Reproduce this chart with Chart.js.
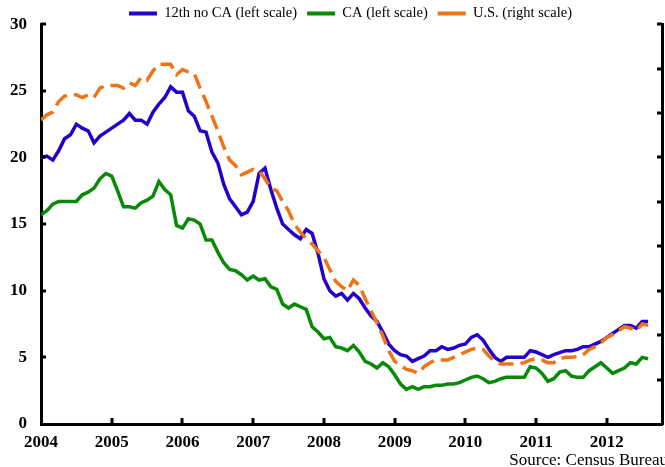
<!DOCTYPE html>
<html><head><meta charset="utf-8">
<script src="https://cdn.jsdelivr.net/npm/chart.js@4"></script>
<style>html,body{margin:0;padding:0;background:#fff;overflow:hidden}</style>
</head><body>
<canvas id="c" width="665" height="467"></canvas>
<script>
// ---- data ----
const startYear = 2004;            // monthly series, first point = Jan 2004
const yearTicks = [2004, 2005, 2006, 2007, 2008, 2009, 2010, 2011, 2012];
const leftTicks = [0, 5, 10, 15, 20, 25, 30];
const rightTicks = [0, 1, 2, 3, 4, 5, 6, 7, 8, 9];
const seriesNames = ['12th no CA (left scale)', 'CA (left scale)', 'U.S. (right scale)'];
const sourceNote = 'Source: Census Bureau';

const twelfthNoCA = [
  20.0, 20.1, 19.8, 20.5, 21.4, 21.7, 22.5, 22.2, 22.0, 21.1, 21.6, 21.9,
  22.2, 22.5, 22.8, 23.3, 22.8, 22.8, 22.5, 23.4, 24.0, 24.5, 25.3, 24.9,
  24.9, 23.5, 23.1, 22.0, 21.9, 20.4, 19.6, 18.0, 16.9, 16.3, 15.7, 15.9,
  16.7, 18.8, 19.2, 17.6, 16.2, 15.0, 14.6, 14.2, 13.9, 14.6, 14.3, 12.8,
  10.9, 10.0, 9.6, 9.8, 9.3, 9.8, 9.4, 8.7, 8.1, 7.7, 6.9, 6.0,
  5.5, 5.2, 5.1, 4.7, 4.9, 5.1, 5.5, 5.5, 5.8, 5.6, 5.7, 5.9,
  6.0, 6.5, 6.7, 6.3, 5.6, 5.0, 4.7, 5.0, 5.0, 5.0, 5.0, 5.5,
  5.4, 5.2, 5.0, 5.2, 5.35, 5.5, 5.5, 5.6, 5.8, 5.8, 6.0, 6.2,
  6.5, 6.8, 7.1, 7.4, 7.4, 7.2, 7.7, 7.7
];
const california = [
  15.7, 16.0, 16.5, 16.7, 16.7, 16.7, 16.7, 17.2, 17.4, 17.7, 18.4, 18.8,
  18.6, 17.5, 16.3, 16.3, 16.2, 16.6, 16.8, 17.1, 18.2, 17.6, 17.2, 14.9,
  14.7, 15.4, 15.3, 15.0, 13.8, 13.8, 12.9, 12.1, 11.6, 11.5, 11.2, 10.8,
  11.1, 10.8, 10.9, 10.3, 10.1, 9.0, 8.7, 9.0, 8.8, 8.6, 7.3, 6.9,
  6.4, 6.5, 5.8, 5.7, 5.5, 5.9, 5.4, 4.7, 4.5, 4.2, 4.6, 4.3,
  3.7, 3.0, 2.6, 2.8, 2.6, 2.8, 2.8, 2.9, 2.9, 3.0, 3.0, 3.1,
  3.3, 3.5, 3.6, 3.4, 3.1, 3.2, 3.4, 3.5, 3.5, 3.5, 3.5, 4.3,
  4.2, 3.8, 3.2, 3.4, 3.9, 4.0, 3.6, 3.5, 3.5, 4.0, 4.3, 4.6,
  4.2, 3.8, 4.0, 4.2, 4.6, 4.5, 5.0, 4.9
];
const unitedStates = [
  6.84, 6.96, 7.02, 7.26, 7.38, 7.41, 7.41, 7.35, 7.41, 7.35, 7.56, 7.62,
  7.62, 7.62, 7.56, 7.68, 7.62, 7.80, 7.74, 7.95, 8.10, 8.10, 8.10, 7.86,
  7.98, 7.92, 7.89, 7.56, 7.26, 6.93, 6.60, 6.24, 5.94, 5.82, 5.61, 5.67,
  5.73, 5.70, 5.52, 5.31, 5.25, 5.01, 4.80, 4.50, 4.32, 4.17, 4.05, 3.90,
  3.75, 3.48, 3.21, 3.09, 3.00, 3.24, 3.12, 2.82, 2.55, 2.28, 1.98, 1.65,
  1.41, 1.32, 1.23, 1.20, 1.14, 1.29, 1.38, 1.44, 1.44, 1.44, 1.50, 1.56,
  1.62, 1.68, 1.71, 1.68, 1.53, 1.41, 1.35, 1.35, 1.35, 1.35, 1.38, 1.44,
  1.47, 1.44, 1.38, 1.38, 1.47, 1.50, 1.50, 1.52, 1.56, 1.68, 1.74, 1.83,
  1.95, 2.01, 2.10, 2.19, 2.16, 2.10, 2.25, 2.22
];

// ---- build ----
const toPoints = arr => arr.map((v, i) => ({ x: startYear + i / 12, y: v }));
const SERIF = '"Liberation Serif", "Times New Roman", serif';
const BLUE = '#2400cc', GREEN = '#088a08', ORANGE = '#ee7416';

const legendShift = {
  id: 'legendShift',
  afterLayout(chart) {
    const L = chart.legend;
    if (!L) return;
    L.left += 18; L.right += 18;
    L.top -= 8;
  }
};

const tickMarks = {
  id: 'tickMarks',
  afterDraw(chart) {
    const c = chart.ctx, a = chart.chartArea;
    c.save();
    c.strokeStyle = '#000';
    c.lineWidth = 3;
    c.beginPath();
    const xs = chart.scales.x;
    yearTicks.forEach(v => {
      const px = Math.round(xs.getPixelForValue(v));
      if (px <= a.left + 2) return;
      c.moveTo(px, a.bottom); c.lineTo(px, a.bottom - 6);
    });
    const ys = chart.scales.y;
    leftTicks.forEach(v => {
      const py = Math.round(ys.getPixelForValue(v));
      if (py >= a.bottom - 2) return;
      c.moveTo(a.left, py); c.lineTo(a.left + 5, py);
    });
    const rs = chart.scales.y1;
    rightTicks.forEach(v => {
      const py = Math.round(rs.getPixelForValue(v));
      if (py >= a.bottom - 2) return;
      c.moveTo(a.right, py); c.lineTo(a.right - 5, py);
    });
    c.stroke();
    c.fillStyle = '#000';
    c.font = '17px ' + SERIF;
    c.textAlign = 'right';
    c.textBaseline = 'middle';
    c.fillText(sourceNote, 668, 461);
    c.restore();
  }
};

const tickFont = { family: SERIF, size: 17, weight: 'bold' };

new Chart(document.getElementById('c'), {
  type: 'line',
  data: {
    datasets: [
      { label: seriesNames[0], data: toPoints(twelfthNoCA), borderColor: BLUE, backgroundColor: BLUE,
        borderWidth: 3.5, pointRadius: 0, tension: 0, yAxisID: 'y', order: 1 },
      { label: seriesNames[1], data: toPoints(california), borderColor: GREEN, backgroundColor: GREEN,
        borderWidth: 3.5, pointRadius: 0, tension: 0, yAxisID: 'y', order: 2 },
      { label: seriesNames[2], data: toPoints(unitedStates), borderColor: ORANGE, backgroundColor: ORANGE,
        borderWidth: 3.5, borderDash: [15, 7], pointRadius: 0, tension: 0, yAxisID: 'y1', order: 0 }
    ]
  },
  options: {
    responsive: false,
    animation: false,
    devicePixelRatio: 1,
    layout: { padding: { top: 0, left: 0, right: 0, bottom: 0 } },
    plugins: {
      tooltip: { enabled: false },
      legend: {
        position: 'top',
        maxHeight: 20,
        labels: {
          color: '#000',
          font: { family: SERIF, size: 14.5 },
          boxWidth: 28,
          boxHeight: 4,
          padding: 10,
          sort: (a, b) => a.datasetIndex - b.datasetIndex,
          generateLabels: chart => Chart.defaults.plugins.legend.labels.generateLabels(chart)
            .map(l => Object.assign(l, { lineWidth: 0, lineDash: [], fillStyle: l.strokeStyle }))
        }
      }
    },
    scales: {
      x: {
        type: 'linear',
        min: 2004,
        max: 2012.78,
        afterBuildTicks: s => { s.ticks = yearTicks.map(v => ({ value: v })); },
        grid: { drawOnChartArea: false, drawTicks: false },
        border: { width: 3, color: '#000' },
        ticks: { color: '#000', font: tickFont, padding: 8, maxRotation: 0, autoSkip: false,
                 callback: v => String(v) },
        afterFit: s => { s.height = 43; }
      },
      y: {
        position: 'left',
        min: 0,
        max: 30,
        afterBuildTicks: s => { s.ticks = leftTicks.map(v => ({ value: v })); },
        grid: { drawOnChartArea: false, drawTicks: false },
        border: { width: 3, color: '#000' },
        ticks: { color: '#000', font: tickFont, padding: 14 },
        afterFit: s => { s.width = 41; }
      },
      y1: {
        position: 'right',
        min: 0,
        max: 9,
        afterBuildTicks: s => { s.ticks = rightTicks.map(v => ({ value: v })); },
        grid: { drawOnChartArea: false, drawTicks: false },
        border: { width: 3, color: '#000' },
        ticks: { display: false },
        afterFit: s => { s.width = 3; }
      }
    }
  },
  plugins: [legendShift, tickMarks]
});
</script>
</body></html>
